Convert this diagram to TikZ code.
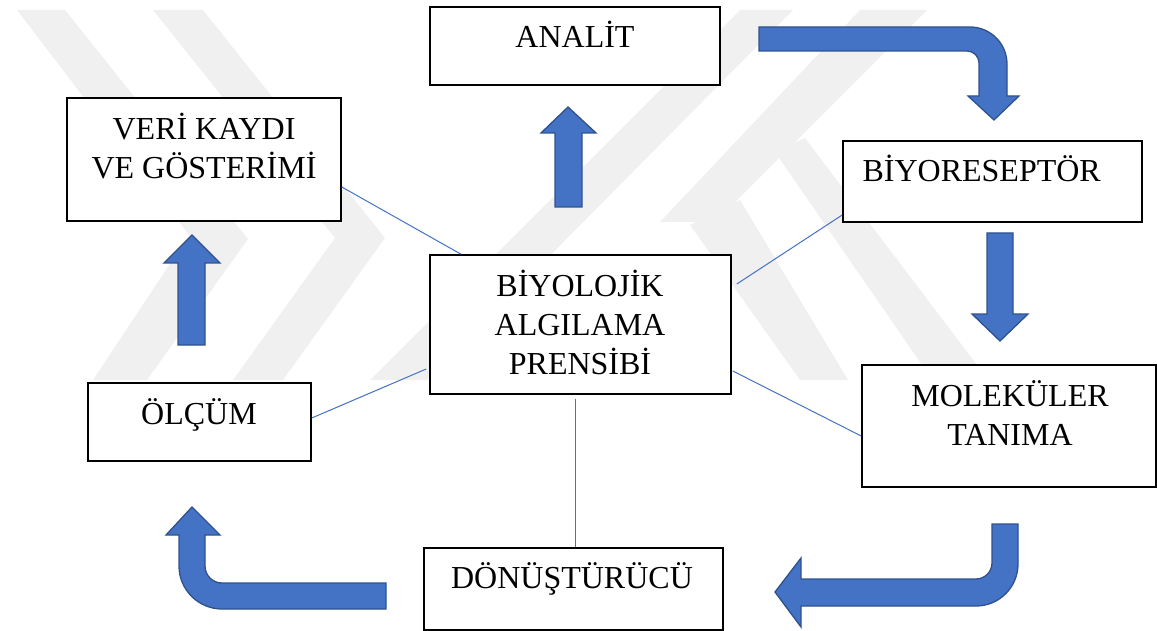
\documentclass[tikz,border=0pt]{standalone}
\usepackage{fontspec}
\setmainfont{Liberation Serif}
\definecolor{arrowfill}{HTML}{4472C4}
\definecolor{arrowedge}{HTML}{2F528F}
\definecolor{wmgray}{HTML}{F0F0F0}
\begin{document}
\begin{tikzpicture}[x=1pt,y=-1pt,
  box/.style={draw=black, line width=1.6pt, fill=white, inner sep=0pt},
  lbl/.style={font=\fontsize{32pt}{39pt}\selectfont, inner sep=0pt, align=center, anchor=base},
  link/.style={draw=arrowfill, line width=1pt},
  blockarrow/.style={fill=arrowfill, draw=arrowedge, line width=1.3pt, line join=miter},
  wmark/.style={fill=wmgray, draw=none}]
\useasboundingbox (0,0) rectangle (1157,631);

% faint watermark
\path[wmark] (17,10) -- (65,10) -- (248,239) -- (147,380) -- (93,380) -- (189,235) -- cycle;
\path[wmark] (153,10) -- (203,10) -- (385,238) -- (283,380) -- (233,380) -- (335,238) -- cycle;
\path[wmark] (370,380) -- (427,380) -- (793,10) -- (740,10) -- cycle;
\path[wmark] (860,10) -- (927,10) -- (715,222) -- (660,222) -- cycle;
\path[wmark] (690,225) -- (740,200) -- (848,380) -- (800,380) -- cycle;
\path[wmark] (775,152) -- (805,138) -- (977,365) -- (922,365) -- cycle;

% boxes
\node[box, minimum width=290pt, minimum height=78pt]  (ana)   at (575,46) {};
\node[box, minimum width=274pt, minimum height=123pt] (veri)  at (204,159.5) {};
\node[box, minimum width=299pt, minimum height=81pt]  (biyor) at (992.5,181.5) {};
\node[box, minimum width=301pt, minimum height=139pt] (bio)   at (580.5,324.5) {};
\node[box, minimum width=223pt, minimum height=78pt]  (olc)   at (199.5,422) {};
\node[box, minimum width=294pt, minimum height=122pt] (mol)   at (1009,426) {};
\node[box, minimum width=299pt, minimum height=82pt]  (don)   at (573.5,589) {};

% labels (base anchor = baseline of the last line)
\node[lbl] (anat)   at (575,48)    {ANALİT};
\node[lbl] (verit)  at (204,178.5) {VERİ KAYDI\\VE GÖSTERİMİ};
\node[lbl] (biyort) at (981.7,181.7) {BİYORESEPTÖR};
\node[lbl] (biot)   at (580,374)   {BİYOLOJİK\\ALGILAMA\\PRENSİBİ};
\node[lbl] (olct)   at (199,424)   {ÖLÇÜM};
\node[lbl] (molt)   at (1010,445)  {MOLEKÜLER\\TANIMA};
\node[lbl] (dont)   at (572,588)   {DÖNÜŞTÜRÜCÜ};

% thin connectors
\draw[link] ([yshift=-27.5pt]veri.east) -- ([xshift=-119.5pt]bio.north);
\draw[link] ([xshift=5pt,yshift=40.5pt]bio.east) -- ([yshift=-33.5pt]biyor.west);
\draw[link] ([xshift=-3pt,yshift=-44.5pt]bio.west) -- ([yshift=4pt]olc.east);
\draw[link] ([xshift=1pt,yshift=-46.5pt]bio.east) -- ([yshift=-10pt]mol.west);
\draw[link] ([xshift=-5pt,yshift=-4pt]bio.south) -- ([xshift=2pt]don.north);

% straight block arrows
\path[blockarrow] (178,345) -- (178,263) -- (164,263) -- (192,235) -- (220,263) -- (205,263) -- (205,345) -- cycle;
\path[blockarrow] (555,207) -- (555,133) -- (541,133) -- (568,107) -- (596,133) -- (582,133) -- (582,207) -- cycle;
\path[blockarrow] (987,233) -- (1013,233) -- (1013,314) -- (1028,314) -- (1000,341) -- (972,314) -- (987,314) -- cycle;

% bent block arrows
\path[blockarrow] (759,27) -- (970,27) .. controls (990.4,27) and (1007,43.6) .. (1007,64)
  -- (1007,96) -- (1019,96) -- (994,120) -- (968,96) -- (979,96) -- (979,63)
  .. controls (979,56.4) and (973.6,51) .. (967,51) -- (759,51) -- cycle;
\path[blockarrow] (992,524) -- (1018,524) -- (1018,564) .. controls (1018,587.2) and (999.2,606) .. (976,606)
  -- (801,606) -- (801,627) -- (775,592) -- (801,558) -- (801,579) -- (976,579)
  .. controls (984.8,579) and (992,571.8) .. (992,563) -- cycle;
\path[blockarrow] (386,583) -- (222,583) .. controls (212.6,583) and (205,575.4) .. (205,566)
  -- (205,535) -- (220,535) -- (192,507) -- (166,535) -- (179,535) -- (179,566)
  .. controls (179,589.7) and (198.3,609) .. (222,609) -- (386,609) -- cycle;
\end{tikzpicture}
\end{document}
